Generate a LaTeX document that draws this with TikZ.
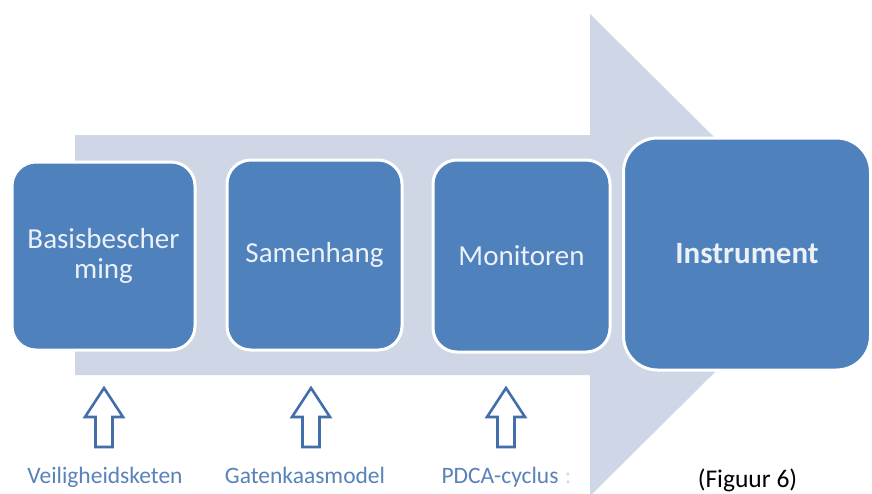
\documentclass[tikz,border=0pt]{standalone}
\usepackage{fontspec}
\setmainfont{Carlito}
\definecolor{flowbg}{RGB}{207,214,229}
\definecolor{stepblue}{RGB}{79,129,189}
\definecolor{steptext}{RGB}{236,241,248}
\definecolor{inputblue}{RGB}{66,110,172}
\definecolor{labelblue}{RGB}{88,130,186}
\begin{document}
\begin{tikzpicture}[x=1pt,y=-1pt,
  stage/.style={draw=white, line width=3pt, fill=stepblue, rounded corners=24pt,
    text=steptext, align=center, font=\fontsize{29}{30}\selectfont, inner sep=0pt},
  inputarrow/.style={draw=inputblue, line width=2.6pt, fill=white, line join=miter},
  inputlabel/.style={text=labelblue, font=\fontsize{23.5}{26}\selectfont, anchor=base, inner sep=0pt}]
\useasboundingbox (0,0) rectangle (872,493);
\fill[white] (0,0) rectangle (872,493);

% broad process arrow behind the stages
\fill[flowbg] (75,135) -- (590,135) -- (590,14) -- (833,255) -- (590,496)
  -- (590,375) -- (75,375) -- cycle;

% process stages
\node[stage, minimum width=183pt, minimum height=188pt] (basis) at (103.5,256) {Basisbescher\\ming};
\node[stage, minimum width=175pt, minimum height=190pt] (samen) at (314.5,255) {Samenhang};
\node[stage, minimum width=177pt, minimum height=192pt] (moni) at (521.5,256) {Monitoren};
\node[stage, minimum width=247pt, minimum height=232pt, rounded corners=34pt,
  font=\fontsize{31}{34}\selectfont\bfseries] (instr) at (747,254) {Instrument};

% hollow input arrows
\foreach \cx/\nm in {104/a1, 311/a2, 506/a3}{
  \coordinate (\nm) at (\cx,388);
  \filldraw[inputarrow] (\nm) -- ++(19,29) -- ++(-10.5,0) -- ++(0,30) -- ++(-17,0)
    -- ++(0,-30) -- ++(-10.5,0) -- cycle;
}

% labels under the input arrows
\node[inputlabel] (l1) at (105,483) {Veiligheidsketen};
\node[inputlabel] (l2) at (305,483) {Gatenkaasmodel};
\node[inputlabel] (l3) at (500,483) {PDCA-cyclus};
\node[inputlabel, text=flowbg] (l3b) at (568,483) {:};

\node[anchor=base, inner sep=0pt, font=\fontsize{25.5}{28}\selectfont] (fig) at (747.5,487) {(Figuur 6)};
\end{tikzpicture}
\end{document}
